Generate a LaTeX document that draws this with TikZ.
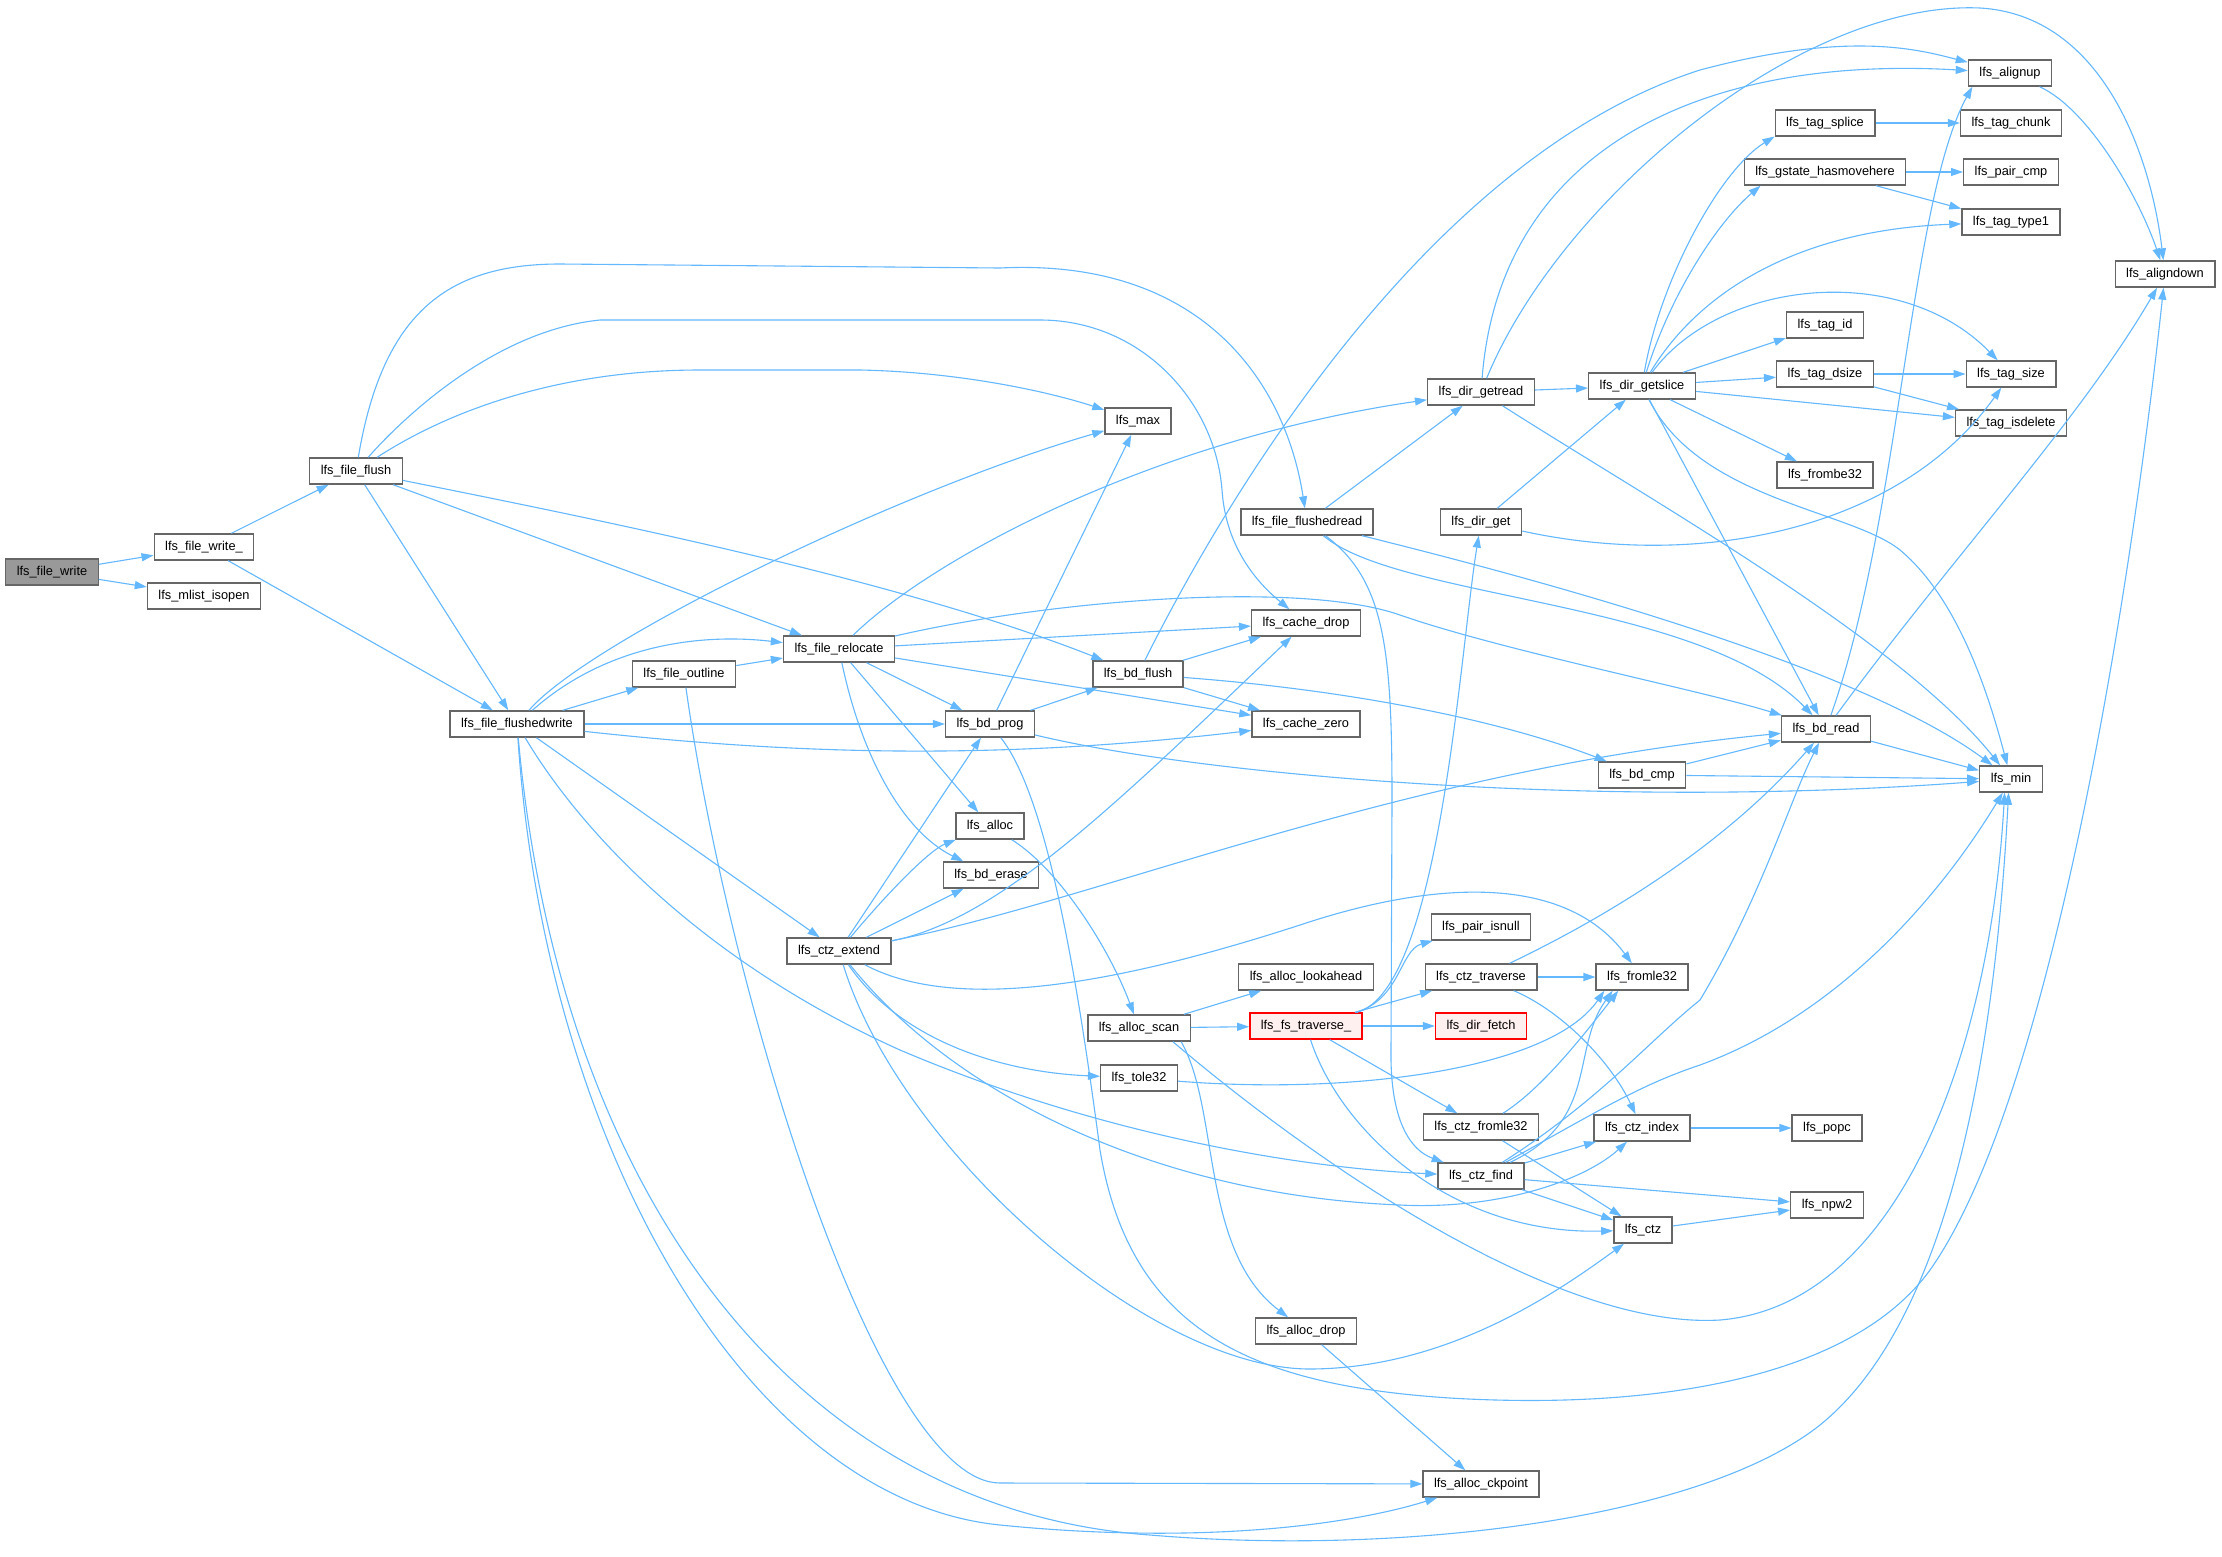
\documentclass[tikz,border=0pt]{standalone}
\usepackage{fontspec}
\usetikzlibrary{arrows.meta}
\newfontfamily\graphfont{Liberation Sans}
\definecolor{edgeblue}{HTML}{63B8FF}
\definecolor{boxgray}{HTML}{666666}
\definecolor{rootgray}{HTML}{999999}
\definecolor{hotfill}{HTML}{FFF0F0}
\tikzset{
  fn/.style={draw=boxgray, fill=white, line width=1.4pt, font={\graphfont\fontsize{12.8pt}{14pt}\selectfont},
    minimum height=26pt, inner xsep=11pt, inner ysep=0pt, text height=9.5pt, text depth=3pt},
  fnroot/.style={fn, fill=rootgray},
  fnhot/.style={fn, draw=red, fill=hotfill},
  call/.style={draw=edgeblue, line width=1.1pt, -{Triangle[length=12pt,width=8pt]}},
}
\begin{document}
\begin{tikzpicture}[x=1pt,y=-1pt]
\fill[white] (0,0) rectangle (2222,1556);
\useasboundingbox (0,0) rectangle (2222,1556);

% functions, one column per call depth
\node[fnroot] (write) at (52,572) {lfs\_file\_write};
\node[fn] (writeu) at (204,547) {lfs\_file\_write\_};
\node[fn] (isopen) at (204,596) {lfs\_mlist\_isopen};
\node[fn] (flush) at (356,471) {lfs\_file\_flush};
\node[fn] (fwrite) at (517,724) {lfs\_file\_flushedwrite};
\node[fn] (outline) at (684,674) {lfs\_file\_outline};
\node[fn] (reloc) at (839,649) {lfs\_file\_relocate};
\node[fn] (extend) at (839,951) {lfs\_ctz\_extend};
\node[fn] (bdprog) at (990,724) {lfs\_bd\_prog};
\node[fn] (alloc) at (990,826) {lfs\_alloc};
\node[fn] (bderase) at (991,875) {lfs\_bd\_erase};
\node[fn] (max) at (1138,421) {lfs\_max};
\node[fn] (bdflush) at (1138,674) {lfs\_bd\_flush};
\node[fn] (ascan) at (1139,1028) {lfs\_alloc\_scan};
\node[fn] (tole) at (1139,1078) {lfs\_tole32};
\node[fn] (fread) at (1307,522) {lfs\_file\_flushedread};
\node[fn] (cdrop) at (1306,623) {lfs\_cache\_drop};
\node[fn] (czero) at (1306,724) {lfs\_cache\_zero};
\node[fn] (lookahead) at (1306,977) {lfs\_alloc\_lookahead};
\node[fnhot] (traverse) at (1306,1026) {lfs\_fs\_traverse\_};
\node[fn] (adrop) at (1306,1331) {lfs\_alloc\_drop};
\node[fn] (getread) at (1481,392) {lfs\_dir\_getread};
\node[fn] (dirget) at (1481,522) {lfs\_dir\_get};
\node[fn] (isnull) at (1481,927) {lfs\_pair\_isnull};
\node[fn] (ctrav) at (1481,977) {lfs\_ctz\_traverse};
\node[fnhot] (fetch) at (1481,1026) {lfs\_dir\_fetch};
\node[fn] (cfromle) at (1481,1127) {lfs\_ctz\_fromle32};
\node[fn] (cfind) at (1481,1176) {lfs\_ctz\_find};
\node[fn] (ckpoint) at (1481,1484) {lfs\_alloc\_ckpoint};
\node[fn] (getslice) at (1642,386) {lfs\_dir\_getslice};
\node[fn] (bdcmp) at (1642,775) {lfs\_bd\_cmp};
\node[fn] (fromle) at (1642,977) {lfs\_fromle32};
\node[fn] (cindex) at (1642,1128) {lfs\_ctz\_index};
\node[fn] (ctz) at (1643,1230) {lfs\_ctz};
\node[fn] (splice) at (1825,123) {lfs\_tag\_splice};
\node[fn] (hasmove) at (1825,172) {lfs\_gstate\_hasmovehere};
\node[fn] (tagid) at (1825,325) {lfs\_tag\_id};
\node[fn] (dsize) at (1825,374) {lfs\_tag\_dsize};
\node[fn] (frombe) at (1825,475) {lfs\_frombe32};
\node[fn] (bdread) at (1826,729) {lfs\_bd\_read};
\node[fn] (popc) at (1827,1128) {lfs\_popc};
\node[fn] (npw) at (1827,1205) {lfs\_npw2};
\node[fn] (alignup) at (2010,73) {lfs\_alignup};
\node[fn] (chunk) at (2011,123) {lfs\_tag\_chunk};
\node[fn] (paircmp) at (2011,172) {lfs\_pair\_cmp};
\node[fn] (type1) at (2011,222) {lfs\_tag\_type1};
\node[fn] (tsize) at (2011,374) {lfs\_tag\_size};
\node[fn] (isdel) at (2011,423) {lfs\_tag\_isdelete};
\node[fn] (min) at (2011,779) {lfs\_min};
\node[fn] (aligndown) at (2165,274) {lfs\_aligndown};

% write path
\draw[call] (write) -- (writeu);
\draw[call] (write) -- (isopen);
\draw[call] (writeu) -- (flush);
\draw[call] (writeu) -- (fwrite);

% lfs_file_flush
\draw[call] (flush) .. controls (383,310) and (450,264) .. (560,264) -- (1000,268) .. controls (1200,258) and (1285,380) .. (fread);
\draw[call] (flush) .. controls (410,410) and (500,330) .. (600,320) -- (1040,320) .. controls (1140,320) and (1215,400) .. (1222,490) .. controls (1226,550) and (1260,585) .. (cdrop);
\draw[call] (flush) .. controls (450,410) and (560,370) .. (700,370) -- (860,370) .. controls (960,372) and (1050,392) .. (max);
\draw[call] (flush) .. controls (600,520) and (900,580) .. (bdflush);
\draw[call] (flush) -- (reloc);
\draw[call] (flush) -- (fwrite);

% lfs_file_flushedwrite
\draw[call] (fwrite) .. controls (590,640) and (900,490) .. (max);
\draw[call] (fwrite) .. controls (600,650) and (690,632) .. (reloc);
\draw[call] (fwrite) -- (outline);
\draw[call] (fwrite) -- (bdprog);
\draw[call] (fwrite) .. controls (800,755) and (1000,760) .. (czero);
\draw[call] (fwrite) -- (extend);
\draw[call] (fwrite) .. controls (580,830) and (700,960) .. (900,1050) .. controls (1100,1135) and (1300,1168) .. (cfind);
\draw[call] (fwrite) .. controls (545,1150) and (750,1500) .. (1000,1525) .. controls (1200,1545) and (1350,1525) .. (ckpoint);
\draw[call] (fwrite) .. controls (560,1200) and (800,1510) .. (1150,1535) .. controls (1400,1556) and (1700,1520) .. (1820,1425) .. controls (1950,1320) and (1995,1050) .. (min.-100);

% lfs_file_outline
\draw[call] (outline) -- (reloc);
\draw[call] (outline) .. controls (730,1000) and (880,1483) .. (1000,1483) -- (ckpoint);

% lfs_file_relocate
\draw[call] (reloc) .. controls (930,560) and (1150,440) .. (getread);
\draw[call] (reloc) -- (cdrop);
\draw[call] (reloc) .. controls (1050,600) and (1300,580) .. (1400,615) .. controls (1500,650) and (1700,690) .. (bdread);
\draw[call] (reloc) -- (bdprog);
\draw[call] (reloc) -- (czero);
\draw[call] (reloc) -- (alloc);
\draw[call] (reloc) .. controls (860,750) and (900,830) .. (bderase);

% lfs_ctz_extend
\draw[call] (extend) -- (bdprog);
\draw[call] (extend) .. controls (890,890) and (930,850) .. (alloc);
\draw[call] (extend) -- (bderase);
\draw[call] (extend) .. controls (1000,920) and (1120,800) .. (cdrop);
\draw[call] (extend) .. controls (1100,900) and (1400,770) .. (bdread);
\draw[call] (extend) .. controls (950,1010) and (1100,990) .. (1300,925) .. controls (1450,875) and (1570,880) .. (fromle);
\draw[call] (extend) .. controls (900,1040) and (1000,1072) .. (tole);
\draw[call] (extend) .. controls (950,1090) and (1150,1195) .. (1400,1205) .. controls (1500,1210) and (1585,1180) .. (cindex);
\draw[call] (extend) .. controls (900,1150) and (1150,1370) .. (1311,1369) .. controls (1450,1368) and (1560,1290) .. (ctz);

% lfs_bd_prog and lfs_bd_flush
\draw[call] (bdprog) -- (max);
\draw[call] (bdprog) -- (bdflush);
\draw[call] (bdprog) .. controls (1200,775) and (1600,810) .. (min);
\draw[call] (bdprog) .. controls (1050,800) and (1080,1000) .. (1100,1150) .. controls (1130,1330) and (1250,1385) .. (1450,1398) .. controls (1650,1410) and (1850,1380) .. (1930,1270) .. controls (2050,1100) and (2130,600) .. (aligndown);
\draw[call] (bdflush) .. controls (1250,450) and (1450,150) .. (1700,70) .. controls (1850,30) and (1920,50) .. (alignup);
\draw[call] (bdflush) -- (cdrop);
\draw[call] (bdflush) -- (czero);
\draw[call] (bdflush) .. controls (1350,690) and (1500,720) .. (bdcmp);

% allocator
\draw[call] (alloc) .. controls (1060,870) and (1110,950) .. (ascan);
\draw[call] (ascan) -- (lookahead);
\draw[call] (ascan) -- (traverse);
\draw[call] (ascan.-18) .. controls (1220,1110) and (1200,1250) .. (adrop);
\draw[call] (ascan.-22) .. controls (1300,1150) and (1550,1330) .. (1720,1320) .. controls (1900,1305) and (1990,1050) .. (min.-115);
\draw[call] (adrop) -- (ckpoint);

% lfs_fs_traverse_
\draw[call] (traverse) .. controls (1400,1000) and (1400,950) .. (isnull);
\draw[call] (traverse) -- (ctrav);
\draw[call] (traverse) -- (fetch);
\draw[call] (traverse) .. controls (1440,990) and (1460,650) .. (dirget);
\draw[call] (traverse) -- (cfromle);
\draw[call] (traverse) .. controls (1340,1130) and (1450,1235) .. (ctz);

% directory reads
\draw[call] (fread) -- (getread);
\draw[call] (fread) .. controls (1400,600) and (1700,600) .. (bdread);
\draw[call] (fread) .. controls (1500,570) and (1850,660) .. (min);
\draw[call] (fread) .. controls (1385,580) and (1392,650) .. (1392,800) -- (1391,1050) .. controls (1390,1120) and (1410,1150) .. (cfind);
\draw[call] (dirget) -- (getslice);
\draw[call] (dirget) .. controls (1700,570) and (1900,530) .. (tsize);
\draw[call] (getread) -- (getslice);
\draw[call] (getread) .. controls (1500,150) and (1700,55) .. (alignup);
\draw[call] (getread) .. controls (1560,200) and (1800,0) .. (1980,8) .. controls (2100,15) and (2150,150) .. (aligndown);
\draw[call] (getread) .. controls (1650,500) and (1900,640) .. (min);

% lfs_dir_getslice
\draw[call] (getslice) .. controls (1660,280) and (1720,170) .. (splice.-165);
\draw[call] (getslice) .. controls (1672,290) and (1720,220) .. (hasmove.-168);
\draw[call] (getslice) .. controls (1700,290) and (1800,230) .. (type1);
\draw[call] (getslice) .. controls (1720,280) and (1900,260) .. (tsize);
\draw[call] (getslice) -- (tagid);
\draw[call] (getslice) -- (dsize);
\draw[call] (getslice) -- (isdel);
\draw[call] (getslice) -- (frombe);
\draw[call] (getslice) -- (bdread);
\draw[call] (getslice) .. controls (1700,500) and (1850,510) .. (1900,550) .. controls (1960,600) and (1990,700) .. (min);

% tags
\draw[call] (splice) -- (chunk);
\draw[call] (hasmove) -- (paircmp);
\draw[call] (hasmove) -- (type1);
\draw[call] (dsize) -- (tsize);
\draw[call] (dsize) -- (isdel);

% block device reads
\draw[call] (bdread) .. controls (1900,520) and (1910,200) .. (alignup.-160);
\draw[call] (bdread) .. controls (1950,560) and (2080,420) .. (aligndown);
\draw[call] (bdread) -- (min);
\draw[call] (bdcmp) -- (bdread);
\draw[call] (bdcmp) -- (min);
\draw[call] (alignup) .. controls (2090,110) and (2140,200) .. (aligndown);

% ctz lists
\draw[call] (ctrav) -- (fromle);
\draw[call] (ctrav) .. controls (1600,920) and (1720,850) .. (bdread);
\draw[call] (ctrav) .. controls (1560,1010) and (1610,1060) .. (cindex);
\draw[call] (cfromle) .. controls (1540,1090) and (1580,1040) .. (fromle.-150);
\draw[call] (cfromle) -- (ctz);
\draw[call] (cfind) -- (cindex);
\draw[call] (cfind) .. controls (1600,1120) and (1570,1050) .. (fromle.-155);
\draw[call] (cfind) .. controls (1600,1100) and (1650,1040) .. (1700,1000) .. controls (1760,900) and (1790,800) .. (bdread);
\draw[call] (cfind) .. controls (1600,1110) and (1640,1085) .. (1700,1065) .. controls (1850,1010) and (1950,880) .. (min);
\draw[call] (cfind) -- (npw);
\draw[call] (cfind) -- (ctz);
\draw[call] (tole) .. controls (1350,1095) and (1550,1070) .. (fromle.-160);
\draw[call] (cindex) -- (popc);
\draw[call] (ctz) -- (npw);
\end{tikzpicture}
\end{document}
